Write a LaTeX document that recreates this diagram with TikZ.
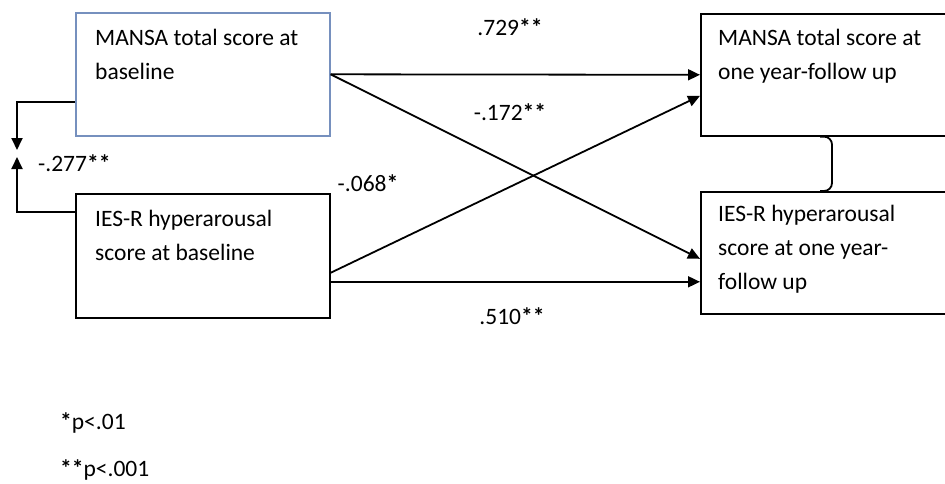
\documentclass[tikz,border=0pt]{standalone}
\usepackage{fontspec}
\setmainfont{Carlito}
\usetikzlibrary{positioning, calc, arrows.meta}
\definecolor{boxblue}{RGB}{118,144,190}
\newcommand{\stars}[1]{{\bfseries #1}}

\begin{document}
\begin{tikzpicture}[x=1pt, y=-1pt, font=\fontsize{23.5}{34}\selectfont,
  box/.style={draw, line width=1.6pt, anchor=north west, inner sep=0pt},
  boxtext/.style={anchor=north west, align=left, inner sep=0pt},
  effect/.style={-{Triangle[length=12pt, width=11pt]}, line width=1.8pt},
  coef/.style={inner sep=0pt}]
  \useasboundingbox (0,0) rectangle (945,483);

  % baseline boxes
  \node[box, draw=boxblue, minimum width=254pt, minimum height=123pt] (mansa0) at (75,12) {};
  \node[box, minimum width=254pt, minimum height=124pt] (ies0) at (75,193) {};
  \node[boxtext] (mansa0txt) at ($(mansa0.north west)+(20,17)$) {MANSA total score at\\baseline};
  \node[boxtext] (ies0txt) at ($(ies0.north west)+(20,17)$) {IES-R hyperarousal\\score at baseline};

  % follow-up boxes (run off the right edge)
  \node[box, minimum width=252pt, minimum height=122pt] (mansa1) at (700,13) {};
  \node[box, minimum width=252pt, minimum height=122pt] (ies1) at (700,191) {};
  \node[boxtext] (mansa1txt) at ($(mansa1.north west)+(18,16)$) {MANSA total score at\\one year-follow up};
  \node[boxtext] (ies1txt) at ($(ies1.north west)+(18,14)$) {IES-R hyperarousal\\score at one year-\\follow up};

  % paths
  \coordinate (bstart) at ($(ies0.east)+(0,26)$);
  \coordinate (bcross) at ($(ies0.east)+(0,17)$);
  \draw[effect] (mansa0.east) -- (mansa1.west);
  \draw[effect] (mansa0.east) -- ($(ies1.west)+(0,6)$);
  \draw[effect] (bcross) -- ($(mansa1.west)+(0,21)$);
  \draw[effect] (bstart) -- (bstart -| ies1.west);

  % correlation at baseline
  \coordinate (meet) at (17,153.5);
  \draw[effect] ($(mansa0.north west)+(0,90)$) -| ([yshift=3.5pt]meet);
  \draw[effect] ($(ies0.north west)+(0,19)$) -| ([yshift=-3.5pt]meet);

  % correlation at follow-up
  \draw[line width=1.8pt, rounded corners=8pt]
    ($(mansa1.south west)+(120,0)$) -| ($(mansa1.south west)+(132,28)$)
    |- ($(ies1.north west)+(120,0)$);

  % coefficients
  \node[coef] (c729) at (510,27) {.729\stars{**}};
  \node[coef] (c172) at (510,112) {-.172\stars{**}};
  \node[coef] (c068) at (368,183) {-.068\stars{*}};
  \node[coef] (c510) at (512,316) {.510\stars{**}};
  \node[coef, anchor=west] (c277) at (38,163) {-.277\stars{**}};

  % significance notes
  \node[coef, anchor=west] (note1) at (60,423) {\stars{*}p<.01};
  \node[coef, anchor=west] (note2) at (60,470) {\stars{**}p<.001};
\end{tikzpicture}
\end{document}
